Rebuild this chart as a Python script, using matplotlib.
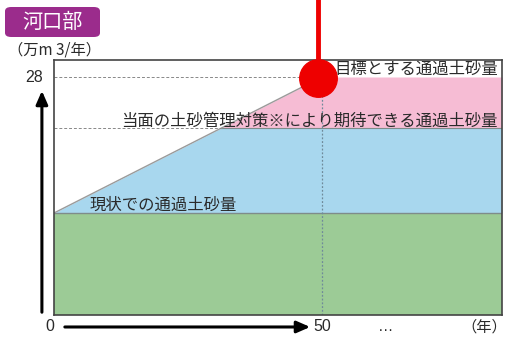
import numpy as np
import matplotlib
matplotlib.use("Agg")
import matplotlib.pyplot as plt
from matplotlib.patches import FancyBboxPatch

plt.rcParams['font.family'] = ['Noto Sans CJK JP', 'DejaVu Sans']

# data (万m3/年 vs years)
current_level = 12     # 現状
interim_level = 22     # 当面の対策
target_level = 28      # 目標
target_year = 50
x_end = 83.6
y_top = 30
marker_pos = (49.2, 27.9)

title = "河口部"
unit_label = "（万m 3/年）"
labels = ["目標とする通過土砂量",
          "当面の土砂管理対策※により期待できる通過土砂量",
          "現状での通過土砂量"]

green = "#9ccb96"
blue = "#a8d7ee"
pink = "#f6bcd4"
edge = "#7f8c8a"
txt = "#2a2a2a"

W, H = 518, 344
fig = plt.figure(figsize=(W / 100, H / 100), dpi=100)
ax = fig.add_axes([54 / W, (H - 315) / H, 448 / W, 255 / H])
ax.set_xlim(0, x_end)
ax.set_ylim(0, y_top)

# the rising line from current level to target at target_year
x_cross = target_year * (interim_level - current_level) / (target_level - current_level)
xs = np.array([0, x_cross, target_year, x_end])
line = np.interp(xs, [0, target_year, x_end], [current_level, target_level, target_level])

ax.fill_between([0, x_end], 0, current_level, color=green, lw=0)
ax.fill_between(xs, current_level, np.minimum(line, interim_level), color=blue, lw=0)
ax.fill_between(xs, interim_level, np.maximum(line, interim_level), color=pink, lw=0)

ax.plot([0, x_end], [current_level] * 2, color=edge, lw=1)
ax.plot([x_cross, x_end], [interim_level] * 2, color=edge, lw=0.8)
ax.plot([0, target_year], [current_level, target_level], color="#9a9a9a", lw=1)
ax.plot([0, target_year], [target_level] * 2, color="#888888", lw=0.7, ls=(0, (3, 2)))
ax.plot([0, x_cross], [interim_level] * 2, color="#888888", lw=0.7, ls=(0, (3, 2)))
ax.plot([target_year] * 2, [0, target_level], color="#6f8a9a", lw=0.9, ls=(0, (1.5, 1.5)))

for s in ax.spines.values():
    s.set_color("#444444")
    s.set_linewidth(1.2)
ax.set_xticks([])
ax.set_yticks([])

# labels inside
ax.text(x_end - 0.8, 28.85, labels[0], ha="right", va="center", fontsize=11.8, color=txt)
ax.text(x_end - 0.8, 22.8, labels[1], ha="right", va="center", fontsize=11.8, color=txt)
ax.text(6.7, 12.9, labels[2], ha="left", va="center", fontsize=11.8, color=txt)

# axis arrows
ax.annotate("", xy=(-0.027, 0.89), xytext=(-0.027, 0.0), xycoords="axes fraction",
            arrowprops=dict(arrowstyle="-|>,head_width=0.35,head_length=0.8", color="black", lw=2.2))
ax.annotate("", xy=(0.578, -0.047), xytext=(0.018, -0.047), xycoords="axes fraction",
            arrowprops=dict(arrowstyle="-|>,head_width=0.35,head_length=0.8", color="black", lw=2.2))

ax.text(-0.025, target_level, "28", transform=ax.get_yaxis_transform(), ha="right", va="center",
        fontsize=11.5, color=txt, family="Liberation Sans")
ax.text(0.0, -0.047, "0", transform=ax.transAxes, ha="right", va="center",
        fontsize=11.5, color=txt, family="Liberation Sans")
ax.text(0.58, -0.047, "50", transform=ax.transAxes, ha="left", va="center",
        fontsize=11.5, color=txt, family="Liberation Sans")
ax.text(0.74, -0.047, "…", transform=ax.transAxes, ha="center", va="center",
        fontsize=11, color=txt, family="Liberation Sans")
ax.text(1.012, -0.047, "（年）", transform=ax.transAxes, ha="right", va="center",
        fontsize=11, color=txt)

# unit label and title box
fig.text(8 / W, 1 - 50 / H, unit_label, ha="left", va="center", fontsize=11, color=txt)
box = FancyBboxPatch((5 / W, 1 - 37 / H), 95 / W, 30 / H,
                     boxstyle="round,pad=0,rounding_size=0.012", transform=fig.transFigure,
                     facecolor="#9b2c8c", edgecolor="none")
fig.patches.append(box)
fig.text(53 / W, 1 - 22 / H, title, ha="center", va="center", fontsize=14.5, color="white")

# red marker
ax.plot([marker_pos[0]] * 2, [marker_pos[1], y_top + 10], color="#ee0000", lw=3.5, clip_on=False,
        solid_capstyle="butt")
ax.plot(marker_pos[0], marker_pos[1], "o", ms=27, color="#ee0000", clip_on=False, zorder=5)

fig.savefig("out.png", dpi=100)
